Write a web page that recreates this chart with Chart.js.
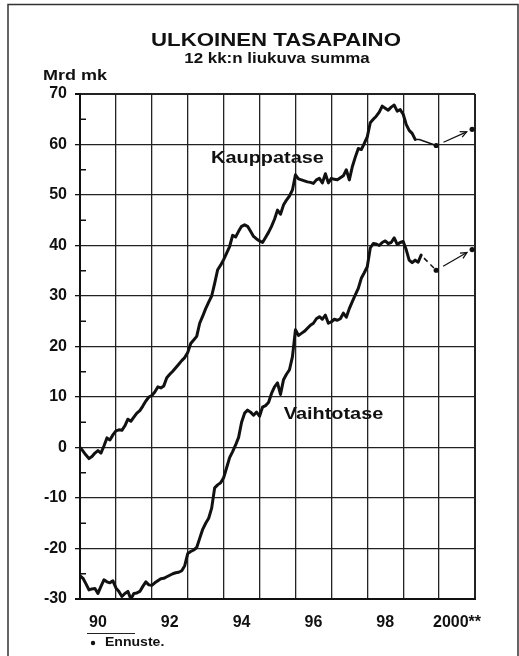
<!DOCTYPE html>
<html lang="fi">
<head>
<meta charset="utf-8">
<title>Ulkoinen tasapaino</title>
<script src="https://cdn.jsdelivr.net/npm/chart.js@4.4.1/dist/chart.umd.min.js"></script>
<style>
  body { margin: 0; background: #fff; }
  canvas { display: block; }
</style>
</head>
<body>
<canvas id="chart" width="519" height="656"></canvas>
<script>
// 12 kk:n liukuva summa, Mrd mk, kuukausittain tammikuusta 1990
const firstYear = 1990;
const kauppatase = [
  0, -0.7, -1.5, -2.2, -1.8, -1.1, -0.6, -1.1, 0.3, 1.9, 1.5, 2.5,
  3.3, 3.5, 3.4, 4.3, 5.6, 5.2, 6.0, 6.8, 7.3, 8.2, 9.2, 10.0,
  10.3, 11.0, 12.0, 11.8, 12.2, 13.8, 14.5, 15.1, 15.8, 16.5, 17.2, 17.8,
  18.8, 20.6, 21.3, 22.0, 24.6, 26.0, 27.5, 28.8, 30.0, 32.5, 35.2, 36.1,
  37.2, 38.5, 39.8, 42.0, 41.7, 42.8, 43.8, 44.1, 43.8, 42.8, 41.8, 41.3,
  40.9, 40.6, 41.6, 42.6, 43.8, 45.2, 47.0, 46.2, 48.0, 49.0, 49.8, 51.0,
  54.0, 53.2, 53.0, 52.8, 52.6, 52.5, 52.3, 53.0, 53.3, 52.4, 54.2, 52.4,
  53.3, 53.1, 53.0, 53.4, 53.8, 55.0, 53.0, 55.6, 57.5, 59.2, 59.0, 60.2,
  61.5, 64.3, 65.0, 65.6, 66.4, 67.6, 67.2, 66.8, 67.4, 67.8, 66.6, 66.9,
  66.0, 64.0, 62.8, 62.2, 61.0
];
const vaihtotase = [
  -25.4, -25.9, -27.0, -28.2, -28.0, -27.9, -28.9, -27.5, -26.2, -26.6, -26.8, -26.4,
  -27.8, -28.5, -29.5, -28.9, -28.5, -30.0, -28.9, -28.8, -28.5, -27.5, -26.6, -27.2,
  -27.3, -26.8, -26.4, -26.0, -25.9, -25.6, -25.3, -25.0, -24.8, -24.7, -24.4, -23.4,
  -21.0, -20.6, -20.3, -19.8, -18.0, -16.2, -15.0, -14.0, -12.0, -8.0, -7.4, -7.0,
  -6.0, -4.0, -2.0, -0.8, 0.5, 2.0, 5.0, 6.8, 7.4, 7.0, 6.4, 7.0,
  6.2, 8.0, 8.3, 8.9, 10.7, 12.0, 12.8, 10.5, 13.4, 14.5, 15.4, 18.0,
  23.3, 22.2, 22.6, 23.0, 23.6, 24.2, 24.6, 25.5, 25.9, 25.4, 26.2, 24.6,
  24.9, 25.4, 25.2, 25.5, 26.6, 25.8, 27.5, 28.9, 30.2, 31.5, 33.5, 34.6,
  35.8, 39.5, 40.4, 40.3, 40.0, 40.6, 40.9, 40.4, 40.6, 41.5, 40.2, 40.6,
  40.8, 39.2, 37.1, 36.6, 37.1, 36.7, 38.1
];

// ennusteet (vuoden lopun pisteet)
const forecastX = [1999.92, 2000.92];
const kauppaForecast = [59.8, 63.0];
const vaihtoForecast = [35.1, 39.2];
// siirtymä viimeisestä havainnosta ennusteeseen
const kauppaBridgeX = [1999.33, 1999.45, 1999.92];
const kauppaBridgeY = [61.0, 61.0, 59.8];
const vaihtoBridgeX = [1999.58, 1999.92];
const vaihtoBridgeY = [37.5, 35.1];

const labelYears = [1990, 1992, 1994, 1996, 1998, 2000];
const yearLabels = ['90', '92', '94', '96', '98', '2000**'];

function monthly(arr) {
  return arr.map((v, i) => ({x: firstYear + i / 12, y: v}));
}
function pairs(xs, ys) {
  return xs.map((x, i) => ({x: x, y: ys[i]}));
}

const FONT = '"Liberation Sans", Arial, sans-serif';

// tekstit, kehys, pienet jakoviivat ja nuolet
const extras = {
  id: 'extras',
  beforeDraw(chart) {
    const c = chart.ctx;
    c.save();
    c.fillStyle = '#fff';
    c.fillRect(0, 0, chart.width, chart.height);
    c.strokeStyle = '#333';
    c.lineWidth = 1.5;
    c.beginPath();
    c.moveTo(8, 656); c.lineTo(8, 4.5); c.lineTo(518, 4.5); c.lineTo(518, 656);
    c.stroke();
    c.restore();
  },
  afterDraw(chart) {
    const c = chart.ctx;
    const xs = chart.scales.x, ys = chart.scales.y;
    function txt(s, x, y, size, align, stretch) {
      c.save();
      c.font = 'bold ' + size + 'px ' + FONT;
      c.textBaseline = 'middle';
      c.textAlign = align;
      c.fillStyle = '#111';
      c.translate(x, y);
      c.scale(stretch, 1);
      c.fillText(s, 0, 0);
      c.restore();
    }
    txt('ULKOINEN TASAPAINO', 276, 41, 19, 'center', 1.17);
    txt('12 kk:n liukuva summa', 277, 59, 15, 'center', 1.13);
    txt('Mrd mk', 43, 76, 15, 'left', 1.2);
    txt('Kauppatase', xs.getPixelForValue(1995.22), ys.getPixelForValue(57.3), 17, 'center', 1.17);
    txt('Vaihtotase', xs.getPixelForValue(1997.06), ys.getPixelForValue(6.6), 17, 'center', 1.17);

    // alaviite
    c.save();
    c.strokeStyle = '#222';
    c.lineWidth = 1;
    c.beginPath(); c.moveTo(87, 633.5); c.lineTo(135, 633.5); c.stroke();
    c.fillStyle = '#111';
    c.beginPath(); c.arc(93, 643, 2.2, 0, Math.PI * 2); c.fill();
    c.restore();
    txt('Ennuste.', 105, 643, 12, 'left', 1.17);

    // pienet jakoviivat (5, 15, ...) akselin sisäpuolelle
    c.save();
    c.strokeStyle = '#111';
    c.lineWidth = 1.5;
    for (let v = -25; v < 70; v += 10) {
      const y = ys.getPixelForValue(v);
      c.beginPath(); c.moveTo(chart.chartArea.left, y); c.lineTo(chart.chartArea.left + 6, y); c.stroke();
    }
    c.restore();

    // nuolet ennusteesta 1999 -> 2000
    [kauppaForecast, vaihtoForecast].forEach(vals => {
      const x1 = xs.getPixelForValue(forecastX[0]), y1 = ys.getPixelForValue(vals[0]);
      const x2 = xs.getPixelForValue(forecastX[1]), y2 = ys.getPixelForValue(vals[1]);
      const len = Math.hypot(x2 - x1, y2 - y1);
      const ux = (x2 - x1) / len, uy = (y2 - y1) / len;
      const sx = x1 + ux * 8, sy = y1 + uy * 8;
      const ex = x2 - ux * 6, ey = y2 - uy * 6;
      c.save();
      c.strokeStyle = '#111';
      c.lineWidth = 1.3;
      c.beginPath(); c.moveTo(sx, sy); c.lineTo(ex, ey); c.stroke();
      const a = Math.atan2(ey - sy, ex - sx);
      c.beginPath();
      c.moveTo(ex - 7 * Math.cos(a - 0.45), ey - 7 * Math.sin(a - 0.45));
      c.lineTo(ex, ey);
      c.lineTo(ex - 7 * Math.cos(a + 0.45), ey - 7 * Math.sin(a + 0.45));
      c.stroke();
      c.restore();
    });
  }
};

const isEdge = (ctx, lo, hi) => ctx.tick && (ctx.tick.value === lo || ctx.tick.value === hi);

new Chart(document.getElementById('chart'), {
  type: 'line',
  data: {
    datasets: [
      {
        label: 'Kauppatase',
        data: monthly(kauppatase),
        borderColor: '#111', borderWidth: 3, pointRadius: 0,
        borderJoinStyle: 'round', borderCapStyle: 'round', tension: 0
      },
      {
        label: 'Vaihtotase',
        data: monthly(vaihtotase),
        borderColor: '#111', borderWidth: 3, pointRadius: 0,
        borderJoinStyle: 'round', borderCapStyle: 'round', tension: 0
      },
      {
        label: 'Kauppatase ennuste',
        data: pairs(kauppaBridgeX, kauppaBridgeY),
        borderColor: '#111', borderWidth: 1.5, pointRadius: 0, tension: 0
      },
      {
        label: 'Vaihtotase ennuste',
        data: pairs(vaihtoBridgeX, vaihtoBridgeY),
        borderColor: '#111', borderWidth: 1.5, borderDash: [5, 4], pointRadius: 0, tension: 0
      },
      {
        label: 'Ennuste K',
        data: pairs(forecastX, kauppaForecast),
        showLine: false, pointRadius: 2.6, pointBackgroundColor: '#111', pointBorderWidth: 0
      },
      {
        label: 'Ennuste V',
        data: pairs(forecastX, vaihtoForecast),
        showLine: false, pointRadius: 2.6, pointBackgroundColor: '#111', pointBorderWidth: 0
      }
    ]
  },
  options: {
    responsive: false,
    animation: false,
    devicePixelRatio: 1,
    layout: { padding: { left: 0, right: 44, top: 94, bottom: 0 } },
    plugins: { legend: { display: false }, tooltip: { enabled: false }, title: { display: false } },
    scales: {
      x: {
        type: 'linear', position: 'bottom',
        min: 1990, max: 2001,
        ticks: { stepSize: 1, display: false },
        grid: {
          color: '#222',
          lineWidth: ctx => isEdge(ctx, 1990, 2001) ? 2 : 1.3,
          drawTicks: false
        },
        border: { display: true, color: '#111', width: 2 },
        afterFit: s => { s.height = 0; }
      },
      // vuosiluvut vuoden keskelle
      x2: {
        type: 'linear', position: 'bottom',
        min: 1989.5, max: 2000.5,
        grid: { display: false, drawTicks: false },
        border: { display: false },
        afterBuildTicks: s => { s.ticks = labelYears.map(v => ({value: v})); },
        ticks: {
          autoSkip: false, maxRotation: 0, padding: 14,
          color: '#111',
          font: { family: FONT, size: 16, weight: 'bold' },
          callback: v => yearLabels[labelYears.indexOf(v)] || ''
        },
        afterFit: s => { s.height = 57; }
      },
      y: {
        min: -30, max: 70,
        ticks: {
          stepSize: 5, autoSkip: false, padding: 8,
          color: '#111',
          font: { family: FONT, size: 16, weight: 'bold' },
          callback: v => (v % 10 === 0 ? v : '')
        },
        grid: {
          color: ctx => (ctx.tick && ctx.tick.value % 10 === 0 ? '#222' : 'rgba(0,0,0,0)'),
          tickColor: ctx => (ctx.tick && ctx.tick.value % 10 === 0 ? '#111' : 'rgba(0,0,0,0)'),
          lineWidth: ctx => isEdge(ctx, -30, 70) ? 2 : 1.3,
          tickLength: 5
        },
        border: { display: true, color: '#111', width: 2 },
        afterFit: s => { s.width = 80; }
      }
    }
  },
  plugins: [extras]
});
</script>
</body>
</html>
